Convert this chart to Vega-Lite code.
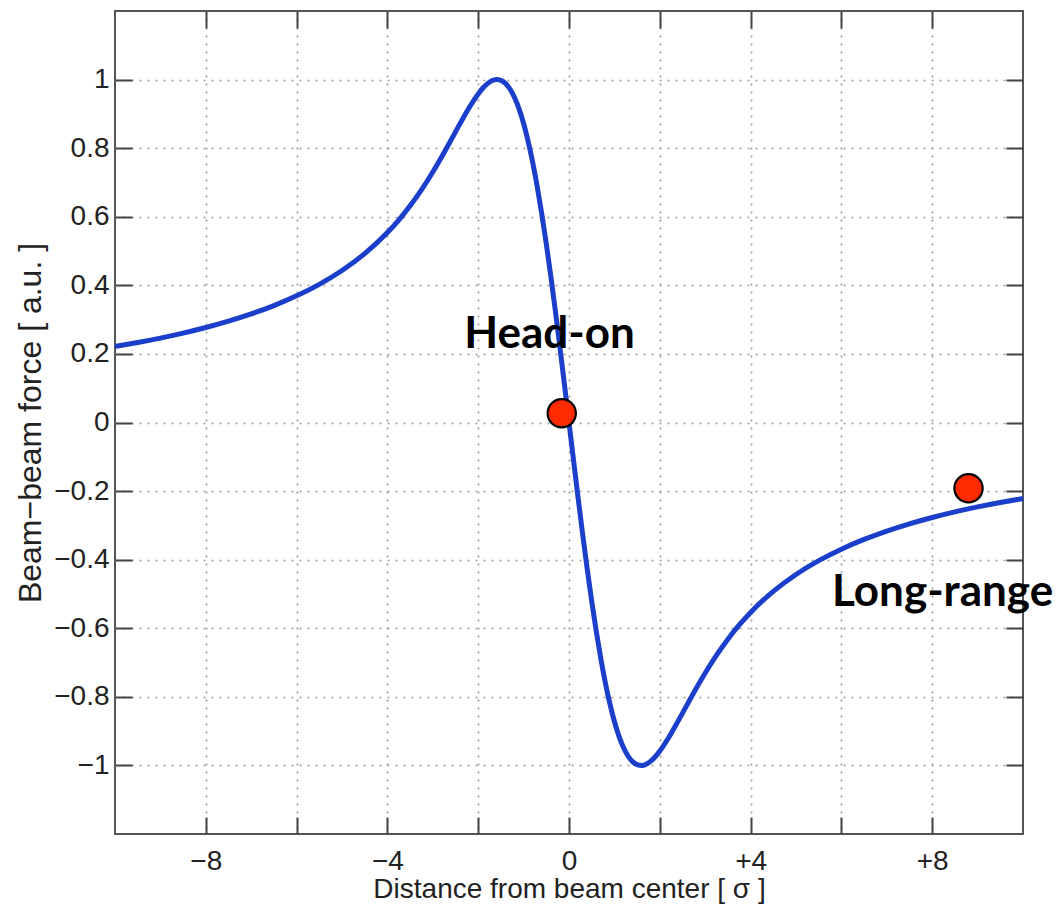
{
  "$schema": "https://vega.github.io/schema/vega-lite/v6.json",
  "width": 908,
  "height": 823,
  "autosize": {"type": "none"},
  "padding": {"left": 115, "top": 11, "right": 34, "bottom": 78},
  "background": "white",
  "config": {
    "view": {"stroke": "#555", "strokeWidth": 2},
    "axis": {
      "domain": false,
      "labelFont": "Liberation Sans",
      "labelFontSize": 28,
      "labelColor": "#222",
      "titleFont": "Liberation Sans",
      "titleFontWeight": "normal",
      "titleColor": "#222",
      "tickColor": "#444",
      "tickWidth": 2,
      "tickSize": -17,
      "gridColor": "#9a9a9a",
      "gridDash": [2, 6],
      "gridWidth": 1.6
    }
  },
  "datasets": {
    "curve": [
      {"x": -10, "f": 0.2216}, {"x": -9.5, "f": 0.2333}, {"x": -9, "f": 0.2462}, {"x": -8.5, "f": 0.2607},
      {"x": -8, "f": 0.2770}, {"x": -7.5, "f": 0.2955}, {"x": -7, "f": 0.3166}, {"x": -6.5, "f": 0.3410},
      {"x": -6, "f": 0.3694}, {"x": -5.5, "f": 0.4029}, {"x": -5, "f": 0.4432}, {"x": -4.5, "f": 0.4925},
      {"x": -4, "f": 0.5539}, {"x": -3.75, "f": 0.5905}, {"x": -3.5, "f": 0.6318}, {"x": -3.25, "f": 0.6784},
      {"x": -3, "f": 0.7305}, {"x": -2.8, "f": 0.7758}, {"x": -2.6, "f": 0.8234}, {"x": -2.4, "f": 0.8716},
      {"x": -2.2, "f": 0.9178}, {"x": -2, "f": 0.9581}, {"x": -1.9, "f": 0.9746}, {"x": -1.8, "f": 0.9876},
      {"x": -1.7, "f": 0.9963}, {"x": -1.6, "f": 1.0}, {"x": -1.5, "f": 0.9978}, {"x": -1.4, "f": 0.9889},
      {"x": -1.3, "f": 0.9725}, {"x": -1.2, "f": 0.9479}, {"x": -1.1, "f": 0.9145}, {"x": -1.0, "f": 0.8720},
      {"x": -0.9, "f": 0.8200}, {"x": -0.8, "f": 0.7586}, {"x": -0.7, "f": 0.6880}, {"x": -0.6, "f": 0.6085},
      {"x": -0.5, "f": 0.5208}, {"x": -0.4, "f": 0.4260}, {"x": -0.3, "f": 0.3251}, {"x": -0.2, "f": 0.2194},
      {"x": -0.1, "f": 0.1105}, {"x": 0, "f": 0},
      {"x": 0.1, "f": -0.1105}, {"x": 0.2, "f": -0.2194}, {"x": 0.3, "f": -0.3251}, {"x": 0.4, "f": -0.4260},
      {"x": 0.5, "f": -0.5208}, {"x": 0.6, "f": -0.6085}, {"x": 0.7, "f": -0.6880}, {"x": 0.8, "f": -0.7586},
      {"x": 0.9, "f": -0.8200}, {"x": 1.0, "f": -0.8720}, {"x": 1.1, "f": -0.9145}, {"x": 1.2, "f": -0.9479},
      {"x": 1.3, "f": -0.9725}, {"x": 1.4, "f": -0.9889}, {"x": 1.5, "f": -0.9978}, {"x": 1.6, "f": -1.0},
      {"x": 1.7, "f": -0.9963}, {"x": 1.8, "f": -0.9876}, {"x": 1.9, "f": -0.9746}, {"x": 2, "f": -0.9581},
      {"x": 2.2, "f": -0.9178}, {"x": 2.4, "f": -0.8716}, {"x": 2.6, "f": -0.8234}, {"x": 2.8, "f": -0.7758},
      {"x": 3, "f": -0.7305}, {"x": 3.25, "f": -0.6784}, {"x": 3.5, "f": -0.6318}, {"x": 3.75, "f": -0.5905},
      {"x": 4, "f": -0.5539}, {"x": 4.5, "f": -0.4925}, {"x": 5, "f": -0.4432}, {"x": 5.5, "f": -0.4029},
      {"x": 6, "f": -0.3694}, {"x": 6.5, "f": -0.3410}, {"x": 7, "f": -0.3166}, {"x": 7.5, "f": -0.2955},
      {"x": 8, "f": -0.2770}, {"x": 8.5, "f": -0.2607}, {"x": 9, "f": -0.2462}, {"x": 9.5, "f": -0.2333},
      {"x": 10, "f": -0.2216}
    ],
    "points": [
      {"x": -0.16, "f": 0.027, "case": "Head-on"},
      {"x": 8.8, "f": -0.192, "case": "Long-range"}
    ],
    "labels": [
      {"x": -0.43, "f": 0.216, "text": "Head-on"},
      {"x": 8.23, "f": -0.534, "text": "Long-range"}
    ]
  },
  "resolve": {"axis": {"x": "independent", "y": "independent"}},
  "layer": [
    {
      "data": {"name": "curve"},
      "mark": {"type": "line", "opacity": 0},
      "encoding": {
        "x": {"field": "x", "type": "quantitative", "scale": {"domain": [-10, 10], "nice": false, "zero": false},
          "axis": {"orient": "top", "values": [-8, -6, -4, -2, 0, 2, 4, 6, 8], "labels": false, "grid": false, "title": null}},
        "y": {"field": "f", "type": "quantitative", "scale": {"domain": [-1.2, 1.2], "nice": false, "zero": false},
          "axis": {"orient": "right", "values": [-1, -0.8, -0.6, -0.4, -0.2, 0, 0.2, 0.4, 0.6, 0.8, 1], "labels": false, "grid": false, "title": null}}
      }
    },
    {
      "data": {"name": "curve"},
      "mark": {"type": "line", "color": "#1b3fca", "strokeWidth": 5, "interpolate": "monotone"},
      "encoding": {
        "x": {"field": "x", "type": "quantitative",
          "axis": {"orient": "bottom", "values": [-8, -6, -4, -2, 0, 2, 4, 6, 8], "grid": true,
            "labelExpr": "datum.value % 4 == 0 ? (datum.value > 0 ? '+' + datum.value : (datum.value < 0 ? '\u2212' + abs(datum.value) : '0')) : ''",
            "labelPadding": 30, "title": "Distance from beam center [ \u03c3 ]", "titleFontSize": 28, "titlePadding": 0}},
        "y": {"field": "f", "type": "quantitative",
          "axis": {"orient": "left", "values": [-1, -0.8, -0.6, -0.4, -0.2, 0, 0.2, 0.4, 0.6, 0.8, 1], "grid": true, "format": "~g",
            "labelPadding": 23, "title": "Beam\u2212beam force [ a.u. ]", "titleFontSize": 32, "titlePadding": 6}}
      }
    },
    {
      "data": {"name": "points"},
      "mark": {"type": "point", "filled": true, "fill": "#ff2a00", "stroke": "black", "strokeWidth": 2.2, "size": 800, "opacity": 1},
      "encoding": {
        "x": {"field": "x", "type": "quantitative", "axis": null},
        "y": {"field": "f", "type": "quantitative", "axis": null}
      }
    },
    {
      "data": {"name": "labels"},
      "mark": {"type": "text", "font": "Lato", "fontWeight": "bold", "fontSize": 44, "baseline": "alphabetic", "align": "center", "color": "black"},
      "encoding": {
        "x": {"field": "x", "type": "quantitative", "axis": null},
        "y": {"field": "f", "type": "quantitative", "axis": null},
        "text": {"field": "text"}
      }
    }
  ]
}
